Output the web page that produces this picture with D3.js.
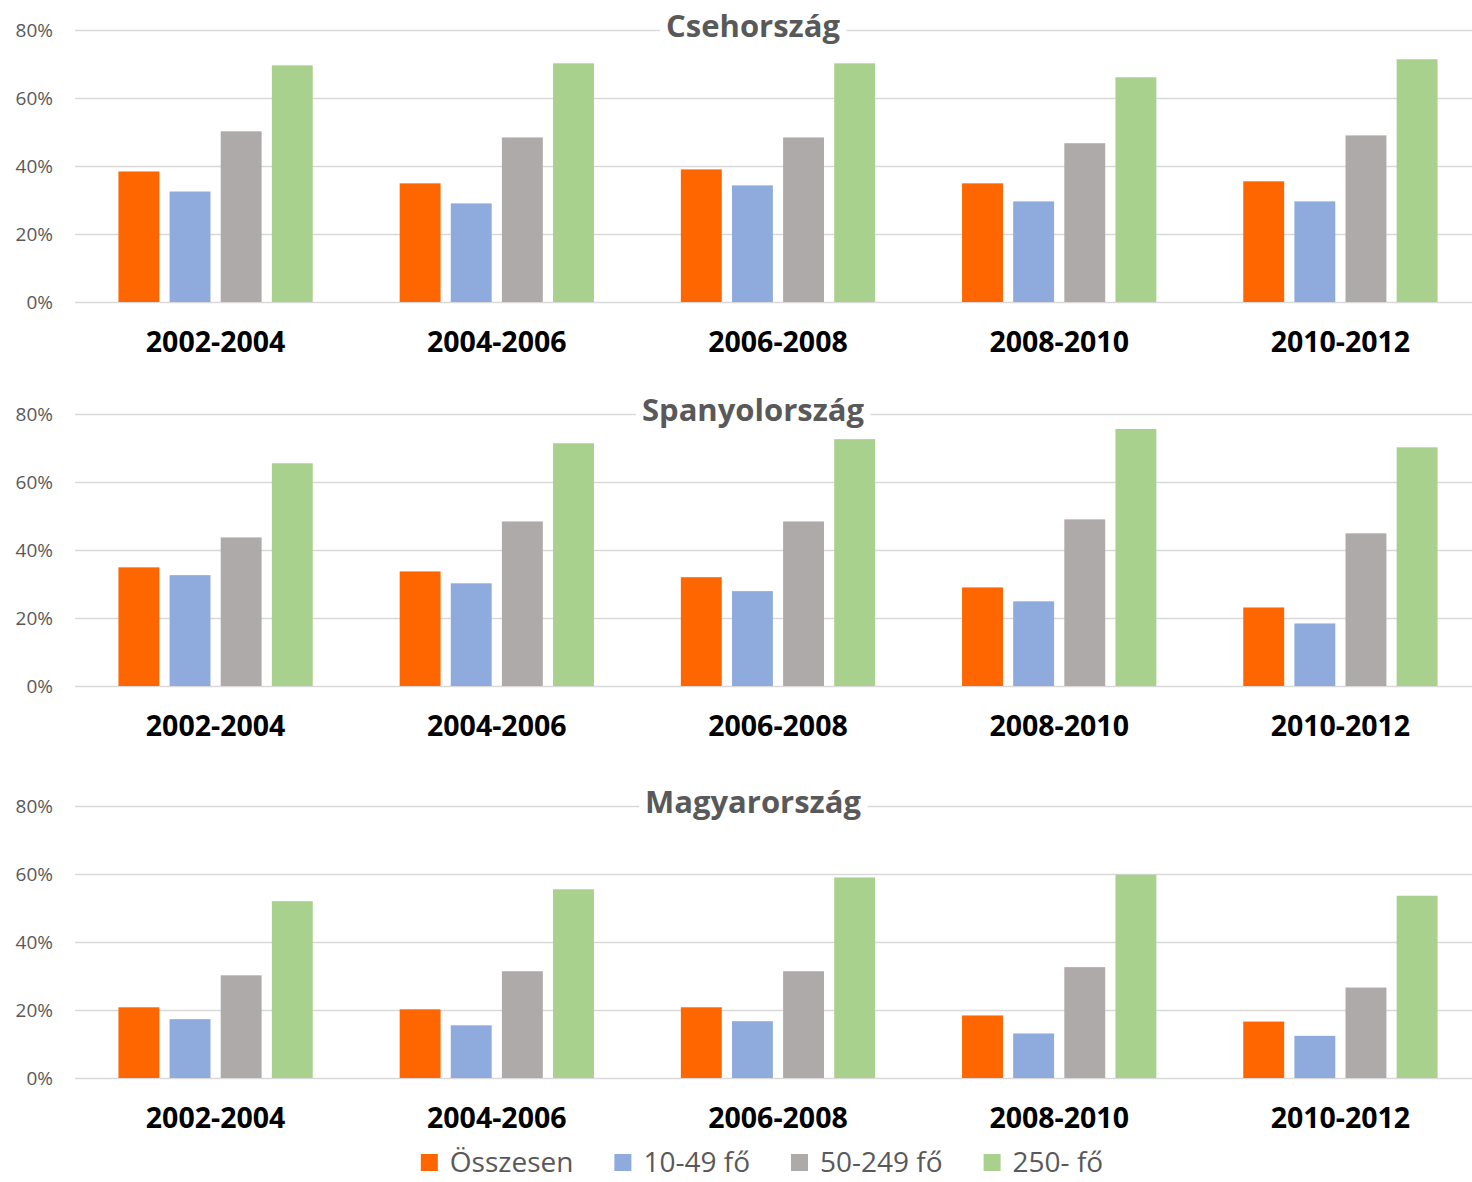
<!DOCTYPE html>
<html>
<head>
<meta charset="utf-8">
<script src="https://cdn.jsdelivr.net/npm/d3@7"></script>
<style>
  html, body { margin: 0; padding: 0; background: #fff; }
  svg { display: block; }
</style>
</head>
<body>
<div id="chart"></div>
<script>
// Periods on the x axis
const periods = ["2002-2004", "2004-2006", "2006-2008", "2008-2010", "2010-2012"];
// Enterprise size classes (series)
const seriesNames = ["Összesen", "10-49 fő", "50-249 fő", "250- fő"];
const seriesColors = ["#ff6600", "#8faadc", "#aeaaaa", "#a9d18e"];
// Panels
const countries = ["Csehország", "Spanyolország", "Magyarország"];
// Y axis ticks (percent)
const yTicks = [0, 20, 40, 60, 80];

// Csehország (%)
const czOsszesen = [38.4, 34.9, 39.0, 34.9, 35.5];
const cz10to49   = [32.5, 29.0, 34.3, 29.6, 29.6];
const cz50to249  = [50.2, 48.4, 48.4, 46.7, 49.0];
const cz250      = [69.6, 70.2, 70.2, 66.1, 71.4];

// Spanyolország (%)
const esOsszesen = [34.9, 33.7, 32.0, 29.0, 23.1];
const es10to49   = [32.6, 30.2, 27.9, 24.9, 18.4];
const es50to249  = [43.7, 48.4, 48.4, 49.0, 44.9];
const es250      = [65.5, 71.4, 72.6, 75.6, 70.2];

// Magyarország (%)
const huOsszesen = [20.8, 20.2, 20.8, 18.4, 16.6];
const hu10to49   = [17.3, 15.5, 16.7, 13.1, 12.4];
const hu50to249  = [30.2, 31.4, 31.4, 32.6, 26.6];
const hu250      = [52.0, 55.5, 59.0, 59.8, 53.6];

const panelSeries = [
  [czOsszesen, cz10to49, cz50to249, cz250],
  [esOsszesen, es10to49, es50to249, es250],
  [huOsszesen, hu10to49, hu50to249, hu250]
];

const W = 1472, H = 1182;
const svg = d3.select("#chart").append("svg")
  .attr("width", W).attr("height", H)
  .style("font-family", "'Open Sans', sans-serif");

const plotLeft = 75, plotRight = 1481;
const panelTops = [30, 414, 806];
const panelHeight = 272;

const x0 = d3.scaleBand().domain(periods).range([plotLeft, plotRight])
  .paddingInner(0).paddingOuter(0);
const x1 = d3.scaleBand().domain(seriesNames).range([0, x0.bandwidth()])
  .paddingInner(0.2).paddingOuter(0.85);

countries.forEach((country, pi) => {
  const top = panelTops[pi];
  const y = d3.scaleLinear().domain([0, 80]).range([top + panelHeight, top]);
  const g = svg.append("g");

  // gridlines + tick labels
  const axis = d3.axisLeft(y)
    .tickValues(yTicks)
    .tickFormat(d => d + "%")
    .tickSize(-(plotRight - plotLeft))
    .tickPadding(22);
  const ag = g.append("g").attr("transform", `translate(${plotLeft},0)`).call(axis);
  ag.select(".domain").remove();
  ag.selectAll(".tick line").attr("stroke", "#d9d9d9").attr("stroke-width", 1.6);
  ag.selectAll(".tick text")
    .attr("fill", "#595959")
    .style("font-size", "19px")
    .style("font-family", "'Open Sans', sans-serif");

  // bars
  const vals = panelSeries[pi];
  const groups = g.selectAll(".grp").data(periods).join("g")
    .attr("transform", d => `translate(${x0(d)},0)`);
  groups.selectAll("rect")
    .data((p, i) => seriesNames.map((s, si) => ({ s, v: vals[si][i], c: seriesColors[si] })))
    .join("rect")
    .attr("x", d => x1(d.s))
    .attr("width", x1.bandwidth())
    .attr("y", d => y(d.v))
    .attr("height", d => y(0) - y(d.v))
    .attr("fill", d => d.c);

  // category labels
  g.selectAll(".cat").data(periods).join("text")
    .attr("x", d => x0(d) + x0.bandwidth() / 2)
    .attr("y", y(0) + 50)
    .attr("text-anchor", "middle")
    .attr("fill", "#000")
    .style("font-size", "28.5px")
    .style("font-weight", "bold")
    .text(d => d);

  // panel title on a white backing
  const title = g.append("text")
    .attr("x", 753)
    .attr("y", top + 7)
    .attr("text-anchor", "middle")
    .attr("fill", "#595959")
    .style("font-size", "31px")
    .style("font-weight", "bold")
    .text(country);
  const bb = title.node().getBBox();
  g.insert("rect", () => title.node())
    .attr("x", bb.x - 6).attr("y", top - 4)
    .attr("width", bb.width + 12).attr("height", 8)
    .attr("fill", "#fff");
});

// legend
const legend = svg.append("g");
let cx = 0;
seriesNames.forEach((name, i) => {
  const it = legend.append("g").attr("transform", `translate(${cx},0)`);
  it.append("rect").attr("x", 0).attr("y", -18).attr("width", 17).attr("height", 17)
    .attr("fill", seriesColors[i]);
  const t = it.append("text").attr("x", 29).attr("y", 0)
    .attr("fill", "#595959")
    .style("font-size", "28px")
    .text(name);
  const w = 29 + t.node().getComputedTextLength();
  cx += w + 41;
});
const legendWidth = cx - 41;
legend.attr("transform", `translate(${762 - legendWidth / 2},1172)`);
</script>
</body>
</html>
